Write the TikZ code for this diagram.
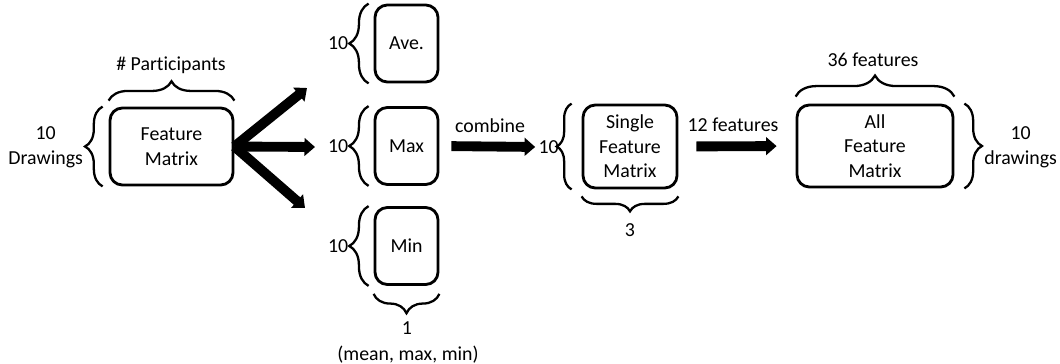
\documentclass[tikz,border=0pt]{standalone}
\usepackage{fontspec}
\setmainfont{Carlito}[Ligatures=NoCommon]
\usetikzlibrary{arrows.meta,decorations.pathreplacing,positioning}
\tikzset{
  mat/.style={draw,rounded corners=7pt,line width=1.6pt,align=center,inner sep=0pt},
  brc/.style={decorate,decoration={brace,amplitude=#1},line width=1.3pt},
  brc/.default=10pt,
  fat/.style={line width=5.6pt,-{Triangle[length=6pt,width=10pt]}},
  lbl/.style={align=center,inner sep=1pt}
}
\begin{document}
\begin{tikzpicture}[x=0.02cm,y=-0.02cm,font=\fontsize{11.3}{14}\selectfont]
\useasboundingbox (0,0) rectangle (1060,364);
% feature matrix
\node[mat,minimum width=2.46cm,minimum height=1.54cm] (fm) at (171.5,146.5) {Feature\\Matrix};
\draw[brc] ([xshift=-0.12cm]fm.south west) -- ([xshift=-0.12cm]fm.north west);
\draw[brc=11pt] ([yshift=0.12cm]fm.north west) -- ([yshift=0.12cm]fm.north east);
\node[lbl,anchor=east] (fmrows) at (85,147) {10\\Drawings};
\node[lbl] (fmcols) at (171,65) {\# Participants};

% ave / max / min
\node[mat,minimum width=1.26cm,minimum height=1.54cm] (ave) at (406.5,43.5) {Ave.};
\node[mat,minimum width=1.26cm,minimum height=1.54cm] (max) at (406.5,146) {Max};
\node[mat,minimum width=1.26cm,minimum height=1.54cm] (min) at (406.5,246) {Min};
\foreach \b in {ave,max,min}{
  \draw[brc=11pt] ([xshift=-0.1cm]\b.south west) -- ([xshift=-0.1cm]\b.north west);
  \node[lbl,anchor=east,inner sep=0pt] (\b10) at ([xshift=-0.5cm]\b.west) {10};
}
\draw[brc=11pt] ([yshift=-0.16cm]min.south east) -- ([yshift=-0.16cm]min.south west);
\node[lbl] (one) at (407,328) {1};
\node[lbl] (stats) at (408,355) {(mean, max, min)};

\coordinate (up) at (307,88); \coordinate (mid) at (315,147); \coordinate (dn) at (305,208);
\draw[fat] (fm.east) -- (up);
\draw[fat] (fm.east) -- (mid);
\draw[fat] (fm.east) -- (dn);

% single feature matrix
\node[mat,minimum width=1.88cm,minimum height=1.66cm] (single) at (630,146.5) {Single\\Feature\\Matrix};
\draw[brc=8.5pt] ([xshift=-0.2cm]single.south west) -- ([xshift=-0.2cm]single.north west);
\node[lbl,anchor=east,inner sep=0pt] (s10) at (559,147) {10};
\draw[brc=8.5pt] ([yshift=-0.14cm]single.south east) -- ([yshift=-0.14cm]single.south west);
\node[lbl] (three) at (630,230) {3};
\draw[fat,shorten <=0.24cm,shorten >=0.06cm] (max.east) -- (s10.west);
\node[lbl] (comb) at (490,126) {combine};

% all feature matrix
\node[mat,minimum width=3.12cm,minimum height=1.64cm] (all) at (875,146) {All\\Feature\\Matrix};
\draw[brc=12pt] ([yshift=0.14cm]all.north west) -- ([yshift=0.14cm]all.north east);
\node[lbl] (allcols) at (873,60) {36 features};
\draw[brc] ([xshift=0.2cm]all.north east) -- ([xshift=0.2cm]all.south east);
\node[lbl,anchor=west,inner sep=0pt] (allrows) at (984,147) {10\\drawings};
\draw[fat,shorten <=0.36cm,shorten >=0.38cm] (single.east) -- (all.west);
\node[lbl] (twelve) at (733,125) {12 features};
\end{tikzpicture}
\end{document}
